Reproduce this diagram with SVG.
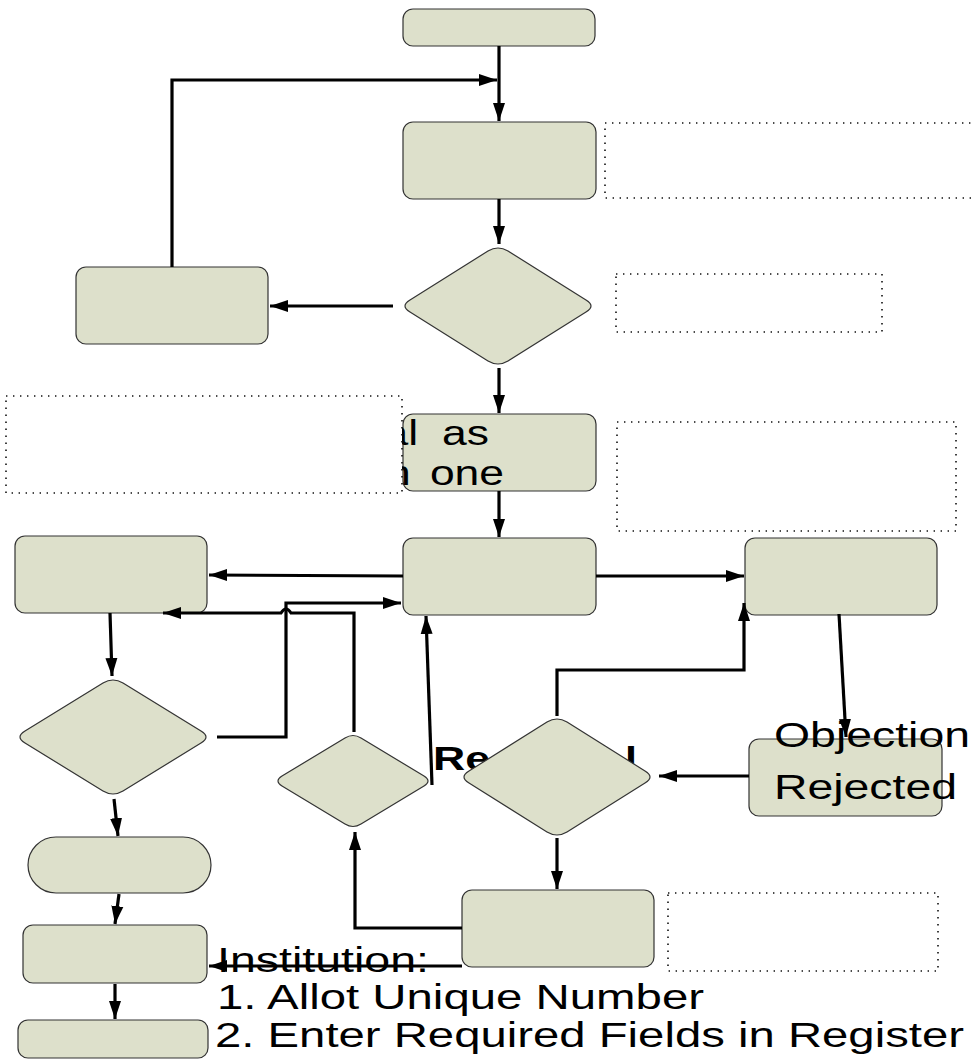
<svg xmlns="http://www.w3.org/2000/svg" width="973" height="1059" viewBox="0 0 973 1059">
<defs>
<style>
.n{fill:#dde0cb;stroke:#333;stroke-width:1.2}
.d{fill:#fff;stroke:#111;stroke-width:1.6;stroke-dasharray:1.4 5.6}
.c{fill:none;stroke:#000;stroke-width:3.2;marker-end:url(#a)}
.t{font-family:"Liberation Sans",Arial,sans-serif;font-size:35px;fill:#000}
.b{font-weight:bold;font-size:33px}
</style>
<marker id="a" markerUnits="userSpaceOnUse" markerWidth="20" markerHeight="13" refX="18" refY="6.5" orient="auto"><path d="M0,0.5 L18,6.5 L0,12.5 z" fill="#000"/></marker>
</defs>
<rect width="973" height="1059" fill="#fff"/>
<g id="free-text">
<text class="t b" x="433" y="770" textLength="57" lengthAdjust="spacingAndGlyphs">Re</text>
<text class="t b" x="625" y="770" textLength="12" lengthAdjust="spacingAndGlyphs">l</text>
<text class="t" x="217" y="972" textLength="212" lengthAdjust="spacingAndGlyphs">Institution:</text>
<text class="t" x="217" y="1009" textLength="487" lengthAdjust="spacingAndGlyphs">1. Allot Unique Number</text>
<text class="t" x="215" y="1047" textLength="749" lengthAdjust="spacingAndGlyphs">2. Enter Required Fields in Register</text>
</g>
<g id="nodes">
<g id="start"><rect class="n" x="403" y="9" width="192" height="37" rx="10"/></g>
<g id="proc1"><rect class="n" x="403" y="122" width="193" height="77" rx="10"/></g>
<g id="dec1"><path class="n" d="M508,251 L586,300 Q596,306 586,312 L508,361 Q498,367 488,361 L410,312 Q400,306 410,300 L488,251 Q498,245 508,251 Z"/></g>
<g id="left1"><rect class="n" x="76" y="267" width="192" height="77" rx="10"/></g>
<g id="proc2"><rect class="n" x="403" y="414" width="193" height="77" rx="10"/>
<text class="t" transform="translate(0,445) scale(1.27,1)"><tspan x="302">al</tspan> <tspan x="348">as</tspan></text>
<text class="t" transform="translate(0,485) scale(1.27,1)"><tspan x="304">n</tspan> <tspan x="338.5">one</tspan></text>
</g>
<g id="left2"><rect class="n" x="15" y="536" width="192" height="77" rx="10"/></g>
<g id="center"><rect class="n" x="403" y="538" width="193" height="77" rx="10"/></g>
<g id="right"><rect class="n" x="745" y="538" width="192" height="77" rx="10"/></g>
<g id="dec-left"><path class="n" d="M123,683 L201,731 Q211,737 201,743 L123,791 Q113,797 103,791 L25,743 Q15,737 25,731 L103,683 Q113,677 123,683 Z"/></g>
<g id="dec-small"><path class="n" d="M361,738 L424,776 Q432,781 424,786 L361,824 Q353,829 345,824 L282,786 Q274,781 282,776 L345,738 Q353,733 361,738 Z"/></g>
<g id="dec-right"><path class="n" d="M567,722 L645,771 Q655,777 645,783 L567,832 Q557,838 547,832 L469,783 Q459,777 469,771 L547,722 Q557,716 567,722 Z"/></g>
<g id="objection"><rect class="n" x="749" y="739" width="193" height="77" rx="10"/>
<text class="t" x="774" y="747" textLength="196" lengthAdjust="spacingAndGlyphs">Objection</text>
<text class="t" x="774" y="799" textLength="183" lengthAdjust="spacingAndGlyphs">Rejected</text>
</g>
<g id="oval"><rect class="n" x="28" y="837" width="183" height="56" rx="28"/></g>
<g id="box-l1"><rect class="n" x="23" y="925" width="184" height="58" rx="10"/></g>
<g id="box-l2"><rect class="n" x="18" y="1020" width="190" height="38" rx="10"/></g>
<g id="bottom"><rect class="n" x="462" y="890" width="192" height="77" rx="10"/></g>
</g>
<g id="annotations">
<rect class="d" x="605" y="123" width="380" height="75"/>
<rect class="d" x="616" y="274" width="266" height="58"/>
<rect class="d" x="6" y="396" width="396" height="97"/>
<rect class="d" x="617" y="422" width="339" height="109"/>
<rect class="d" x="668" y="893" width="270" height="78"/>
</g>
<g id="connectors">
<path class="c" d="M499,46 L499,121"/>
<path class="c" d="M172,267 L172,80 L497,80"/>
<path class="c" d="M499,199 L499,244"/>
<path class="c" d="M393,306 L270,306"/>
<path class="c" d="M499,368 L499,413"/>
<path class="c" d="M499,491 L499,537"/>
<path class="c" d="M403,576 L209,575"/>
<path class="c" d="M596,576 L744,576"/>
<path class="c" d="M217,737 L286,737 L286,603 L401,603"/>
<path class="c" d="M354,732 L354,613 L291,613 Q286,605 281,613 L163,613"/>
<path class="c" d="M432,785 L426,616"/>
<path class="c" d="M557,716 L557,670 L744,670 L744,603"/>
<path class="c" d="M839,614 L846,737"/>
<path class="c" d="M749,776 L659,776"/>
<path class="c" d="M557,838 L557,889"/>
<path class="c" d="M462,928 L355,928 L355,832"/>
<path class="c" d="M462,966 L209,966"/>
<path class="c" d="M110,613 L112,676"/>
<path class="c" d="M114,799 L118,836"/>
<path class="c" d="M119,894 L115,924"/>
<path class="c" d="M115,984 L115,1019"/>
</g>
</svg>
